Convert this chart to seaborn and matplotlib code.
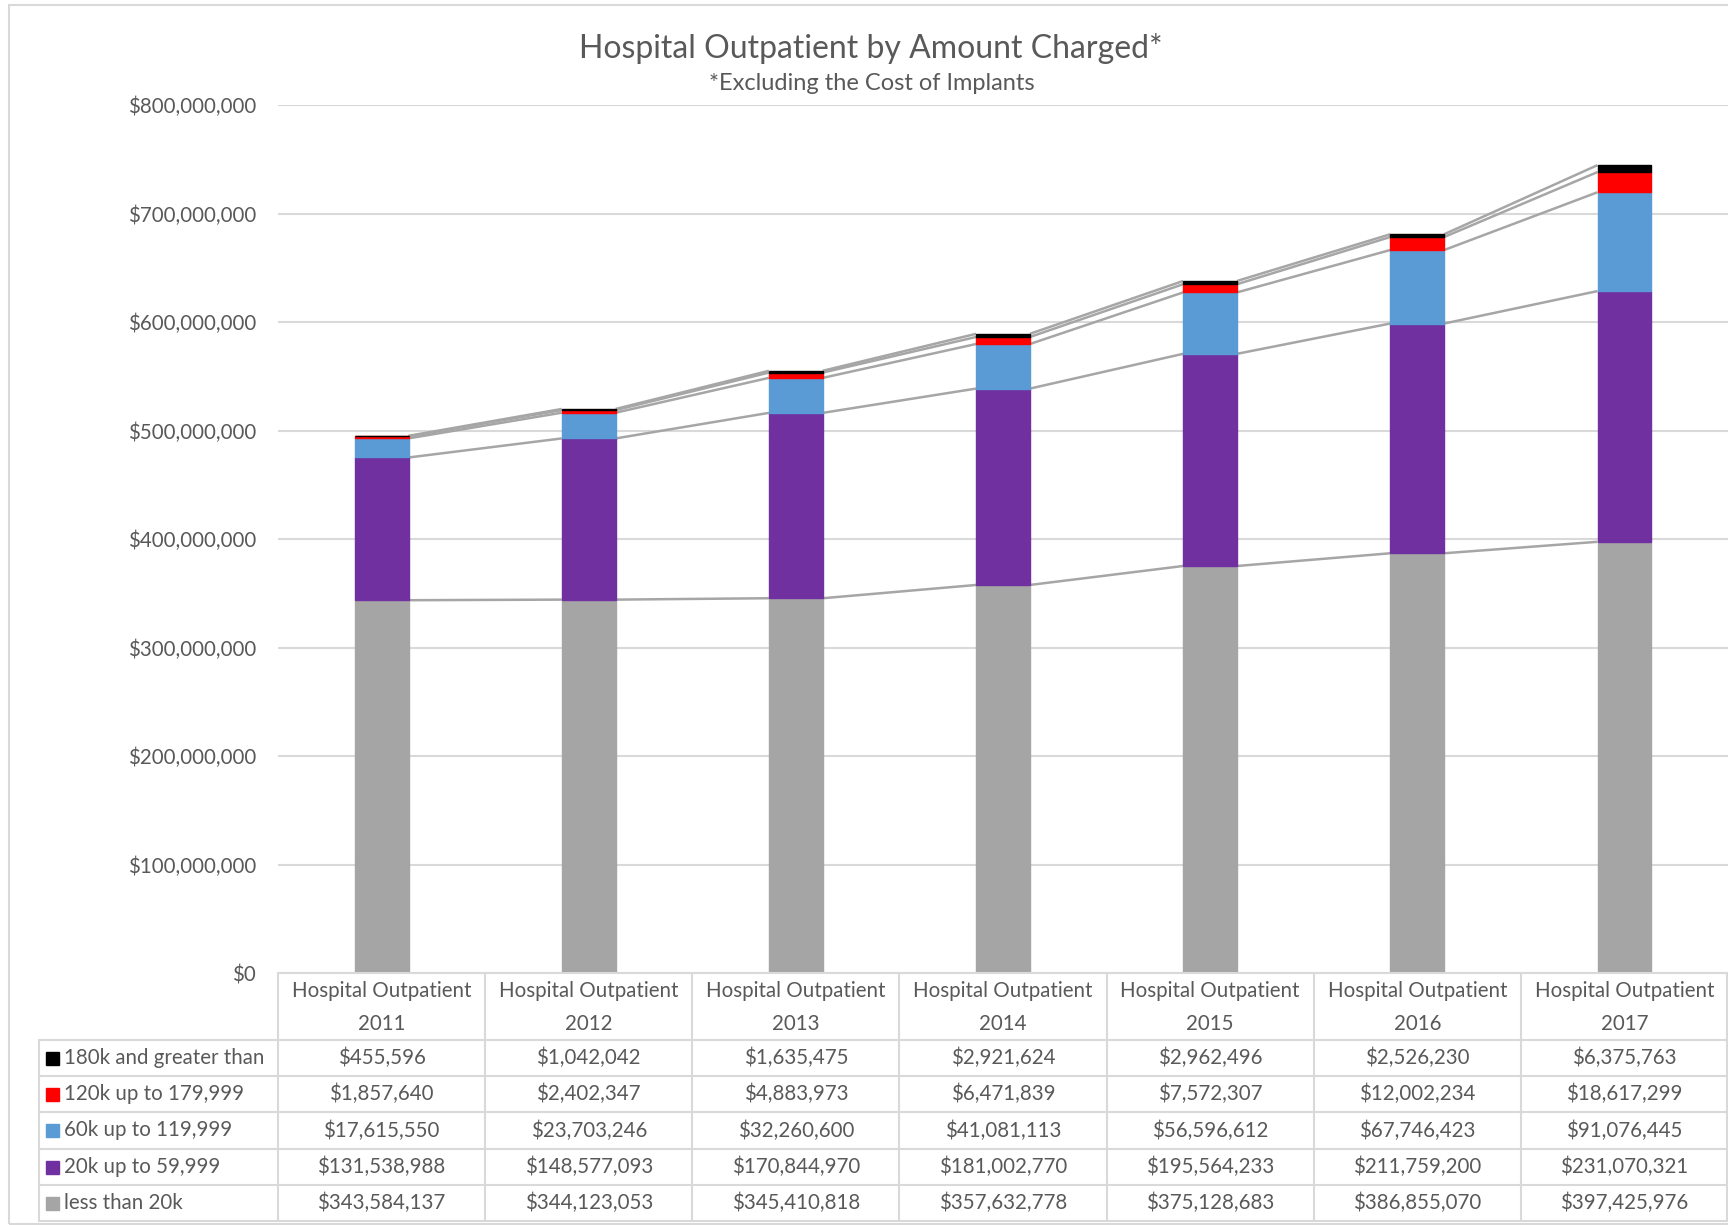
import seaborn as sns
import pandas as pd
import numpy as np
import matplotlib.pyplot as plt
from matplotlib.patches import Rectangle

years = ["2011", "2012", "2013", "2014", "2015", "2016", "2017"]
header_top = "Hospital Outpatient"
labels = ["less than 20k", "20k up to 59,999", "60k up to 119,999",
          "120k up to 179,999", "180k and greater than"]
less_20k = [343584137, 344123053, 345410818, 357632778, 375128683, 386855070, 397425976]
k20_59 = [131538988, 148577093, 170844970, 181002770, 195564233, 211759200, 231070321]
k60_119 = [17615550, 23703246, 32260600, 41081113, 56596612, 67746423, 91076445]
k120_179 = [1857640, 2402347, 4883973, 6471839, 7572307, 12002234, 18617299]
k180_up = [455596, 1042042, 1635475, 2921624, 2962496, 2526230, 6375763]
colors = ["#A5A5A5", "#7030A0", "#5B9BD5", "#FF0000", "#000000"]

sns.set_style("white")
plt.rcParams['font.family'] = ['Lato', 'DejaVu Sans']
txt = "#595959"
grid = "#D9D9D9"
fs = 14.8

W, H = 1728, 1225
fig = plt.figure(figsize=(17.28, 12.25), dpi=100)

def fx(px):
    return px / W

def fy(py):
    return 1 - py / H

# outer chart border
fig.patches.append(Rectangle((fx(9), fy(1224)), 1.2, fy(5) - fy(1224),
                             transform=fig.transFigure, fill=False,
                             edgecolor=grid, lw=1.5))

ax = fig.add_axes([fx(278), fy(973), 1 - fx(278), fy(105) - fy(973)])

series = [less_20k, k20_59, k60_119, k120_179, k180_up]
cum = np.cumsum(np.array(series, dtype=float), axis=0)
bottoms = np.vstack([np.zeros(len(years)), cum[:-1]])
df = pd.DataFrame({"year": years})
for i in range(5):
    df["amount"] = series[i]
    sns.barplot(data=df, x="year", y="amount", order=years, color=colors[i],
                saturation=1, width=0.26, edgecolor=colors[i], linewidth=1.0,
                bottom=bottoms[i], ax=ax, zorder=3)

half = 0.13
for lvl in cum:
    for j in range(len(years) - 1):
        ax.plot([j + half, j + 1 - half], [lvl[j], lvl[j + 1]],
                color="#A6A6A6", lw=1.8, zorder=2, solid_capstyle="butt")

ax.set_xlim(-0.5, 6.5)
ax.set_ylim(0, 800000000)
ax.set_yticks(np.arange(0, 800000001, 100000000))
ax.set_yticklabels(["${:,.0f}".format(v) for v in ax.get_yticks()],
                   color=txt, fontsize=fs)
ax.tick_params(axis="y", length=0, pad=16)
ax.set_xticks([])
ax.set_xlabel("")
ax.set_ylabel("")
ax.yaxis.grid(True, color=grid, lw=1.5, zorder=0)
ax.set_axisbelow(True)
for s in ax.spines.values():
    s.set_visible(False)

# data table
tab = fig.add_axes([0, 0, 1, 1], facecolor="none")
tab.set_xlim(0, W)
tab.set_ylim(H, 0)
tab.axis("off")

x0, xl, xr = 278, 39, 1727
col_w = (1728 - x0) / len(years)
row_y = [973, 1040, 1076, 1112, 1149, 1185, 1221]
tab.plot([x0, xr], [row_y[0]] * 2, color=grid, lw=1.5)
for y in row_y[1:]:
    tab.plot([xl, xr], [y, y], color=grid, lw=1.5)
tab.plot([xl, xl], [row_y[1], row_y[-1]], color=grid, lw=1.5)
for j in range(len(years) + 1):
    xv = min(x0 + j * col_w, xr)
    tab.plot([xv, xv], [row_y[0], row_y[-1]], color=grid, lw=1.5)

for j, yr in enumerate(years):
    cx = x0 + (j + 0.5) * col_w
    tab.text(cx, 991, header_top, ha="center", va="center", fontsize=fs, color=txt)
    tab.text(cx, 1024, yr, ha="center", va="center", fontsize=fs, color=txt)

for r, k in enumerate(range(4, -1, -1)):
    cy = (row_y[r + 1] + row_y[r + 2]) / 2
    tab.add_patch(Rectangle((46, cy - 6.5), 13, 13, color=colors[k]))
    tab.text(64, cy, labels[k], ha="left", va="center", fontsize=fs, color=txt)
    for j in range(len(years)):
        cx = x0 + (j + 0.5) * col_w
        tab.text(cx, cy, "${:,}".format(series[k][j]), ha="center",
                 va="center", fontsize=fs, color=txt)

fig.text(fx(871), fy(48), "Hospital Outpatient by Amount Charged*",
         ha="center", va="center", fontsize=23, color=txt)
fig.text(fx(872), fy(83), "*Excluding the Cost of Implants",
         ha="center", va="center", fontsize=17, color=txt)

fig.savefig("out.png", dpi=100)
